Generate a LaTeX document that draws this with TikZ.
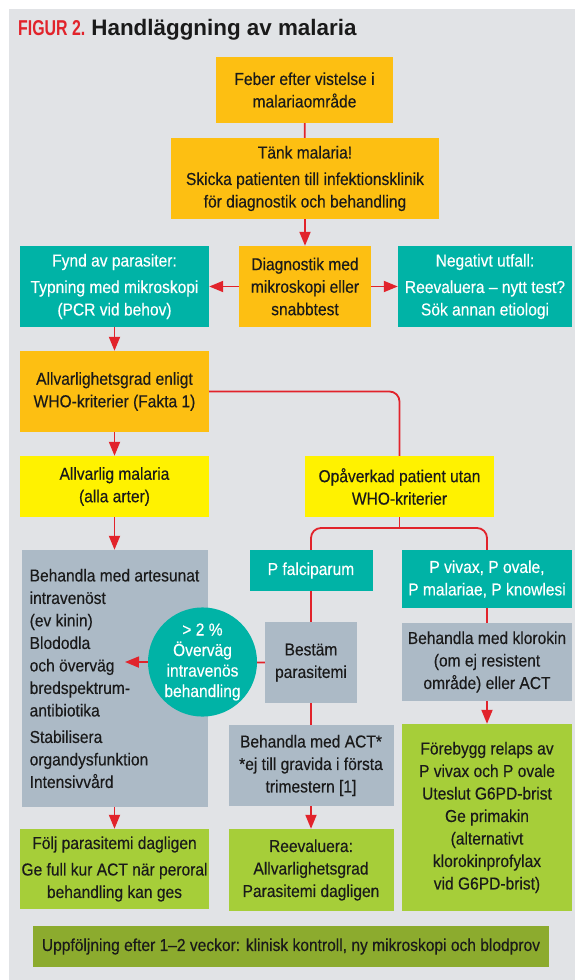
\documentclass[tikz,border=0pt]{standalone}
\usepackage{fontspec}
\setmainfont[FakeStretch=0.9, FakeBold=0.3]{Liberation Sans}
\newfontfamily\figfont[FakeStretch=0.74]{Liberation Sans}
\newfontfamily\headfont{Liberation Sans}
\usetikzlibrary{arrows.meta,shapes.geometric}

\definecolor{panelgray}{HTML}{E1E3E6}
\definecolor{boxorange}{HTML}{FDBF12}
\definecolor{boxteal}{HTML}{00B3A6}
\definecolor{boxyellow}{HTML}{FFF200}
\definecolor{boxgray}{HTML}{ACBAC6}
\definecolor{boxlime}{HTML}{A6CE39}
\definecolor{boxolive}{HTML}{8CAB2E}
\definecolor{flowred}{HTML}{E1232B}
\definecolor{inkblack}{HTML}{1A1A1A}

\begin{document}
\begin{tikzpicture}[x=1pt, y=-1pt,
  box/.style={rectangle, inner sep=1pt, align=center, text=inkblack,
    font=\fontsize{17.3}{22.5}\selectfont},
  orangebox/.style={box, fill=boxorange},
  tealbox/.style={box, fill=boxteal, text=white},
  yellowbox/.style={box, fill=boxyellow},
  graybox/.style={box, fill=boxgray},
  limebox/.style={box, fill=boxlime},
  flow/.style={draw=flowred, line width=1.8pt},
  flowarrow/.style={flow, -{Triangle[length=14pt,width=11pt]}}]

\useasboundingbox (0,0) rectangle (575,980);
\fill[panelgray] (9,9) rectangle (575,980);

\node[anchor=base west, inner sep=0pt] (title) at (18,35)
  {{\figfont\bfseries\fontsize{21.5}{24}\selectfont\color{flowred}FIGUR 2.}\hspace{6pt}%
   {\headfont\bfseries\fontsize{22.4}{26}\selectfont\color{inkblack}Handläggning av malaria}};

\node[orangebox, minimum width=177, minimum height=66] (feber) at (304.5,90)
  {Feber efter vistelse i\\malariaområde};
\node[orangebox, minimum width=268, minimum height=81] (tank) at (305,178.5)
  {Tänk malaria!\\[4pt]Skicka patienten till infektionsklinik\\för diagnostik och behandling};
\node[orangebox, minimum width=132, minimum height=81] (diag) at (305,286.5)
  {Diagnostik med\\mikroskopi eller\\snabbtest};
\node[tealbox, minimum width=189, minimum height=81] (fynd) at (114.5,286.5)
  {Fynd av parasiter:\\[4pt]Typning med mikroskopi\\(PCR vid behov)};
\node[tealbox, minimum width=174, minimum height=81] (neg) at (485,286.5)
  {Negativt utfall:\\[4pt]Reevaluera – nytt test?\\Sök annan etiologi};
\node[orangebox, minimum width=189, minimum height=81] (allv) at (114.5,391.5)
  {Allvarlighetsgrad enligt\\WHO-kriterier (Fakta 1)};
\node[yellowbox, minimum width=189, minimum height=61] (allvmal) at (114.5,486.5)
  {Allvarlig malaria\\(alla arter)};
\node[yellowbox, minimum width=189, minimum height=61] (opav) at (399.5,486.5)
  {Opåverkad patient utan\\WHO-kriterier};
\node[tealbox, minimum width=123, minimum height=41] (pfalc) at (311,570.5)
  {P falciparum};
\node[tealbox, minimum width=170, minimum height=58] (pviv) at (487,579)
  {P vivax, P ovale,\\P malariae, P knowlesi};
\node[graybox, align=left, minimum width=186, minimum height=257] (sev) at (114.5,678.5)
  {Behandla med artesunat\\intravenöst\\(ev kinin)\\Blododla\\och överväg\\bredspektrum-\\antibiotika\\[4pt]Stabilisera\\organdysfunktion\\Intensivvård};
\node[graybox, minimum width=92, minimum height=81] (bestam) at (311,662.5)
  {Bestäm\\parasitemi};
\node[graybox, minimum width=165, minimum height=81] (act) at (311,765.5)
  {Behandla med ACT*\\*ej till gravida i första\\trimestern [1]};
\node[graybox, minimum width=170, minimum height=78] (klorokin) at (487,662)
  {Behandla med klorokin\\(om ej resistent\\område) eller ACT};
\node[limebox, minimum width=170, minimum height=187] (forebygg) at (487,817.5)
  {Förebygg relaps av\\P vivax och P ovale\\Uteslut G6PD-brist\\Ge primakin\\(alternativt\\klorokinprofylax\\vid G6PD-brist)};
\node[limebox, minimum width=188, minimum height=80] (folj) at (114.5,869)
  {Följ parasitemi dagligen\\[4pt]Ge full kur ACT när peroral\\behandling kan ges};
\node[limebox, minimum width=165, minimum height=82] (reeval) at (311,870)
  {Reevaluera:\\Allvarlighetsgrad\\Parasitemi dagligen};
\node[box, fill=boxolive, minimum width=516, minimum height=41] (uppf) at (291,946.5)
  {Uppföljning efter 1–2 veckor: klinisk kontroll, ny mikroskopi och blodprov};

\coordinate (split) at (399.5,528);
\coordinate (sevtip) at (125,662);

\draw[flow] (feber) -- (tank);
\draw[flowarrow] (tank) -- (diag);
\draw[flowarrow] (diag) -- (fynd);
\draw[flowarrow] (diag) -- (neg);
\draw[flowarrow] (fynd) -- (allv);
\draw[flowarrow] (allv) -- (allvmal);
\draw[flow, rounded corners=10pt] (allv.east) -| (opav.north);
\draw[flow] (opav.south) -- (split);
\draw[flow, rounded corners=10pt] (pfalc.north) |- (split) -| (pviv.north);
\draw[flowarrow] (allvmal) -- (sev);
\draw[flow] (pfalc) -- (bestam);
\draw[flow] (bestam) -- (act);
\draw[flow] (pviv) -- (klorokin);
\draw[flowarrow] (klorokin) -- (forebygg);
\draw[flowarrow] (sev) -- (folj);
\draw[flowarrow] (act) -- (reeval);
\draw[flowarrow] (bestam.west) -- (sevtip);

\node[ellipse, fill=boxteal, text=white, inner sep=0pt, minimum width=109, minimum height=100,
  align=center, font=\fontsize{17.3}{20.5}\selectfont] (circ) at (202.5,662)
  {> 2 \%\\Överväg\\intravenös\\behandling};
\end{tikzpicture}
\end{document}
